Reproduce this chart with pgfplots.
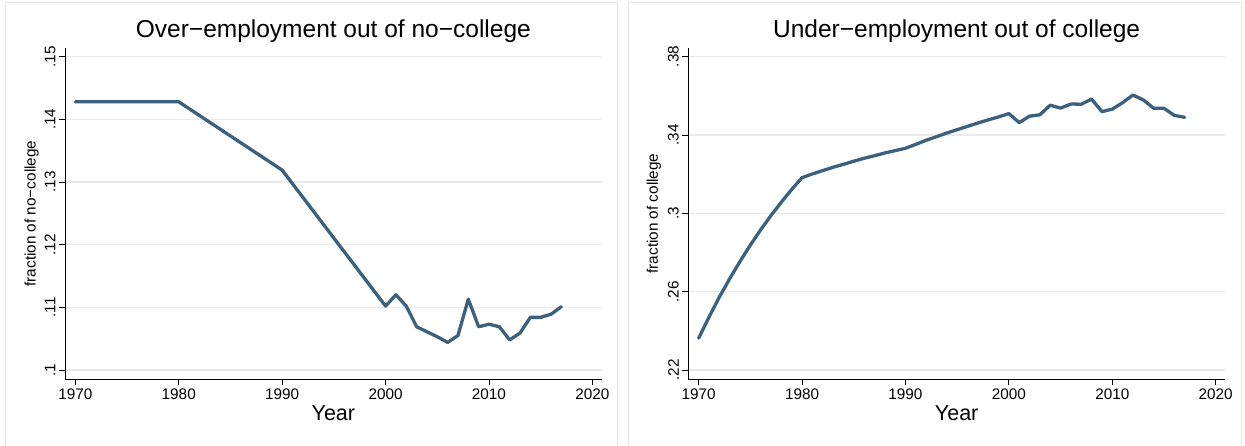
\documentclass[border=0pt]{standalone}
\usepackage{fontspec}
\setmainfont{Liberation Sans}
\usepackage{pgfplots}
\pgfplotsset{compat=1.18}

\definecolor{serie}{RGB}{60,97,126}
\definecolor{gridc}{RGB}{234,234,234}
\definecolor{framec}{RGB}{230,230,230}

% over-employment share of workers without college
\pgfplotstableread{
year frac
1970 0.1428
1980 0.1428
1990 0.1319
2000 0.1102
2001 0.1120
2002 0.1102
2003 0.1069
2004 0.1061
2005 0.1053
2006 0.1044
2007 0.1055
2008 0.1113
2009 0.1069
2010 0.1073
2011 0.1069
2012 0.1048
2013 0.1059
2014 0.1084
2015 0.1084
2016 0.1089
2017 0.1101
}\overemp

% under-employment share of college graduates
\pgfplotstableread{
year frac
1970 0.2362
1971 0.2470
1972 0.2572
1973 0.2666
1974 0.2754
1975 0.2838
1976 0.2916
1977 0.2989
1978 0.3057
1979 0.3122
1980 0.3182
1981 0.3201
1982 0.3218
1983 0.3235
1984 0.3250
1985 0.3266
1986 0.3281
1987 0.3294
1988 0.3308
1989 0.3320
1990 0.3332
1991 0.3352
1992 0.3373
1993 0.3391
1994 0.3410
1995 0.3427
1996 0.3444
1997 0.3461
1998 0.3477
1999 0.3492
2000 0.3509
2001 0.3463
2002 0.3496
2003 0.3503
2004 0.3552
2005 0.3537
2006 0.3558
2007 0.3557
2008 0.3583
2009 0.3519
2010 0.3532
2011 0.3565
2012 0.3604
2013 0.3579
2014 0.3536
2015 0.3536
2016 0.3500
2017 0.3490
}\underemp

\pgfplotsset{
  panel/.style={
    scale only axis,
    anchor=south west,
    width=536.7pt, height=331pt,
    axis lines*=left,
    axis line style={black, line width=0.9pt},
    tick align=outside,
    major tick length=6pt,
    tick style={black, line width=0.9pt},
    ymajorgrids,
    grid style={gridc, line width=1.3pt},
    xmin=1969.0, xmax=2020.9,
    xtick={1970,1980,...,2020},
    /pgf/number format/1000 sep={},
    /pgf/number format/assume math mode=true,
    ticklabel style={font=\fontsize{15.3}{18}\selectfont},
    yticklabel style={rotate=90, anchor=south},
    title style={font=\fontsize{24.5}{29}\selectfont, at={(0.5,1)}, anchor=center, yshift=11pt},
    xlabel style={font=\fontsize{21.5}{25}\selectfont, at={(0.5,0)}, anchor=center, yshift=-34pt},
    ylabel style={font=\fontsize{15.3}{18}\selectfont, anchor=center},
    xlabel={Year},
  },
  series/.style={serie, line width=3.3pt, line join=round, line cap=round, mark=none},
}

\begin{document}
\begin{tikzpicture}
\useasboundingbox (0pt,0pt) rectangle (1245pt,445pt);
\fill[white] (0pt,0pt) rectangle (1245pt,445pt);
\draw[framec, line width=1pt] (5pt,-10pt) rectangle (617pt,442pt);
\draw[framec, line width=1pt] (628pt,-10pt) rectangle (1241pt,442pt);

\begin{axis}[panel,
  at={(65pt,66pt)},
  ymin=0.09856, ymax=0.15139,
  ytick={0.10,0.11,0.12,0.13,0.14,0.15},
  yticklabels={.1,.11,.12,.13,.14,.15},
  title={Over−employment out of no−college},
  ylabel={fraction of no−college},
  ylabel style={at={(axis description cs:-0.062,0.5)}},
]
\addplot[series] table[x=year, y=frac] {\overemp};
\end{axis}

\begin{axis}[panel,
  at={(688.3pt,66pt)},
  ymin=0.2154, ymax=0.3844,
  ytick={0.22,0.26,0.30,0.34,0.38},
  yticklabels={.22,.26,.3,.34,.38},
  title={Under−employment out of college},
  ylabel={fraction of college},
  ylabel style={at={(axis description cs:-0.064,0.5)}},
]
\addplot[series] table[x=year, y=frac] {\underemp};
\end{axis}
\end{tikzpicture}
\end{document}
